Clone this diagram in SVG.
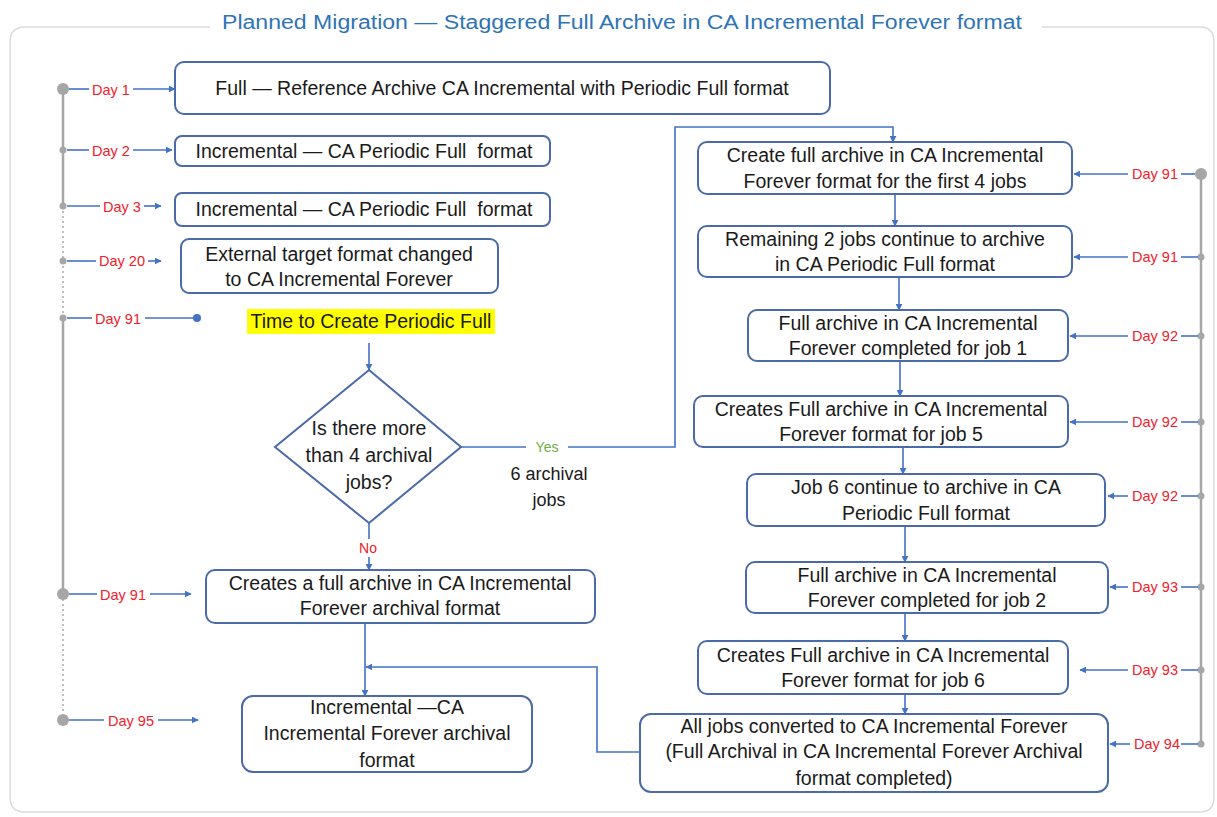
<svg xmlns="http://www.w3.org/2000/svg" width="1217" height="817" viewBox="0 0 1217 817">
<defs>
<marker id="ah" viewBox="0 0 10 10" refX="9" refY="5" markerWidth="7" markerHeight="7" markerUnits="userSpaceOnUse" orient="auto">
<path d="M0,0 L10,5 L0,10 z" fill="#4472C4"/>
</marker>
<marker id="dot" viewBox="0 0 10 10" refX="5" refY="5" markerWidth="8" markerHeight="8" markerUnits="userSpaceOnUse">
<circle cx="5" cy="5" r="5" fill="#4472C4"/>
</marker>
</defs>
<style>
.bx{fill:#fff;stroke:#4A6BA8;stroke-width:2}
.t{font-family:"Liberation Sans",Arial,sans-serif;font-size:19.5px;fill:#1a1a1a;text-anchor:middle;dominant-baseline:central}
.d{font-family:"Liberation Sans",Arial,sans-serif;font-size:14.5px;fill:#F0202A;text-anchor:middle;dominant-baseline:central}
.ln{fill:none;stroke:#4472C4;stroke-width:1.6}
.ar{fill:none;stroke:#4472C4;stroke-width:1.6;marker-end:url(#ah)}
.tl{fill:none;stroke:#A6A6A6;stroke-width:2.5}
.tld{fill:none;stroke:#BFBFBF;stroke-width:2;stroke-dasharray:2 3}
.gd{fill:#A6A6A6}
</style>
<rect width="1217" height="817" fill="#fff"/>
<!-- frame -->
<path d="M210 27 H25 Q10 27 10 42 V797 Q10 812 25 812 H1200 Q1214 812 1214 797 V42 Q1214 27 1200 27 H1042" fill="none" stroke="#DCDCDC" stroke-width="1.5"/>
<text x="622" y="22" font-family="'Liberation Sans',Arial,sans-serif" font-size="20" fill="#2E74B5" text-anchor="middle" dominant-baseline="central" textLength="800" lengthAdjust="spacingAndGlyphs">Planned Migration — Staggered Full Archive in CA Incremental Forever format</text>

<!-- timelines -->
<g id="timeline-left">
<line class="tl" x1="63" y1="89" x2="63" y2="206"/>
<line class="tld" x1="63" y1="206" x2="63" y2="318"/>
<line class="tl" x1="63" y1="318" x2="63" y2="594"/>
<line class="tld" x1="63" y1="594" x2="63" y2="720"/>
<circle class="gd" cx="63" cy="89" r="6"/>
<circle class="gd" cx="63" cy="150" r="3.5"/>
<circle class="gd" cx="63" cy="206" r="3.5"/>
<circle class="gd" cx="63" cy="261" r="3.5"/>
<circle class="gd" cx="63" cy="318" r="3.5"/>
<circle class="gd" cx="63" cy="594" r="6"/>
<circle class="gd" cx="63" cy="720" r="6"/>
</g>
<g id="timeline-right">
<line class="tl" x1="1201" y1="174" x2="1201" y2="744"/>
<circle class="gd" cx="1201" cy="174" r="6"/>
<circle class="gd" cx="1201" cy="257" r="3.5"/>
<circle class="gd" cx="1201" cy="336" r="3.5"/>
<circle class="gd" cx="1201" cy="422" r="3.5"/>
<circle class="gd" cx="1201" cy="496" r="3.5"/>
<circle class="gd" cx="1201" cy="587" r="3.5"/>
<circle class="gd" cx="1201" cy="670" r="3.5"/>
<circle class="gd" cx="1201" cy="744" r="3.5"/>
</g>

<!-- connectors -->
<g id="connectors">
<!-- left day lines -->
<line class="ln" x1="69" y1="89" x2="89" y2="89"/><line class="ar" x1="133" y1="89" x2="175" y2="89"/>
<line class="ln" x1="67" y1="150" x2="89" y2="150"/><line class="ar" x1="133" y1="150" x2="172" y2="150"/>
<line class="ln" x1="67" y1="206" x2="100" y2="206"/><line class="ar" x1="144" y1="206" x2="161" y2="206"/>
<line class="ln" x1="67" y1="261" x2="96" y2="261"/><line class="ar" x1="148" y1="261" x2="161" y2="261"/>
<line class="ln" x1="67" y1="318" x2="92" y2="318"/><line class="ln" x1="145" y1="318" x2="197" y2="318" marker-end="url(#dot)"/>
<line class="ln" x1="69" y1="594" x2="97" y2="594"/><line class="ar" x1="150" y1="594" x2="191" y2="594"/>
<line class="ln" x1="69" y1="720" x2="104" y2="720"/><line class="ar" x1="158" y1="720" x2="198" y2="720"/>
<!-- right day lines -->
<line class="ln" x1="1195" y1="174" x2="1181" y2="174"/><line class="ar" x1="1128" y1="174" x2="1074" y2="174"/>
<line class="ln" x1="1198" y1="257" x2="1181" y2="257"/><line class="ar" x1="1128" y1="257" x2="1074" y2="257"/>
<line class="ln" x1="1198" y1="336" x2="1181" y2="336"/><line class="ar" x1="1128" y1="336" x2="1070" y2="336"/>
<line class="ln" x1="1198" y1="422" x2="1181" y2="422"/><line class="ar" x1="1128" y1="422" x2="1070" y2="422"/>
<line class="ln" x1="1198" y1="496" x2="1181" y2="496"/><line class="ar" x1="1128" y1="496" x2="1108" y2="496"/>
<line class="ln" x1="1198" y1="587" x2="1181" y2="587"/><line class="ar" x1="1128" y1="587" x2="1110" y2="587"/>
<line class="ln" x1="1198" y1="670" x2="1181" y2="670"/><line class="ar" x1="1128" y1="670" x2="1080" y2="670"/>
<line class="ln" x1="1198" y1="744" x2="1181" y2="744"/><line class="ar" x1="1130" y1="744" x2="1110" y2="744"/>
<!-- flow -->
<line class="ar" x1="369" y1="343" x2="369" y2="370"/>
<line class="ln" x1="461" y1="447" x2="526" y2="447"/>
<polyline class="ar" points="568,447 675,447 675,127 893,127 893,142"/>
<line class="ln" x1="369" y1="523" x2="369" y2="539"/>
<line class="ar" x1="369" y1="557" x2="369" y2="570"/>
<line class="ar" x1="365" y1="623" x2="365" y2="696"/>
<polyline class="ar" points="640,752 597,752 597,667 366,667"/>
<line class="ar" x1="895" y1="194" x2="895" y2="226"/>
<line class="ar" x1="899" y1="277" x2="899" y2="310"/>
<line class="ar" x1="900" y1="361" x2="900" y2="396"/>
<line class="ar" x1="903" y1="447" x2="903" y2="474"/>
<line class="ar" x1="905" y1="526" x2="905" y2="562"/>
<line class="ar" x1="905" y1="613" x2="905" y2="641"/>
<line class="ar" x1="905" y1="694" x2="905" y2="714"/>
<!-- day labels -->
<text class="d" x="111" y="90">Day 1</text>
<text class="d" x="111" y="151">Day 2</text>
<text class="d" x="122" y="207">Day 3</text>
<text class="d" x="122" y="261">Day 20</text>
<text class="d" x="118" y="319">Day 91</text>
<text class="d" x="123" y="595">Day 91</text>
<text class="d" x="131" y="721">Day 95</text>
<text class="d" x="1155" y="174">Day 91</text>
<text class="d" x="1155" y="257">Day 91</text>
<text class="d" x="1155" y="336">Day 92</text>
<text class="d" x="1155" y="422">Day 92</text>
<text class="d" x="1155" y="496">Day 92</text>
<text class="d" x="1155" y="587">Day 93</text>
<text class="d" x="1155" y="670">Day 93</text>
<text class="d" x="1157" y="744">Day 94</text>
<text x="547" y="447" font-family="'Liberation Sans',Arial,sans-serif" font-size="14" fill="#70AD47" text-anchor="middle" dominant-baseline="central">Yes</text>
<text x="368" y="548" font-family="'Liberation Sans',Arial,sans-serif" font-size="14" fill="#F0202A" text-anchor="middle" dominant-baseline="central">No</text>
<text class="t" x="549" y="474" style="font-size:18px">6 archival</text>
<text class="t" x="549" y="500" style="font-size:18px">jobs</text>
</g>

<!-- left nodes -->
<g id="n-full">
<rect class="bx" x="175" y="62" width="655" height="52" rx="9"/>
<text class="t" x="502" y="88">Full — Reference Archive CA Incremental with Periodic Full format</text>
</g>
<g id="n-day2">
<rect class="bx" x="175" y="136" width="375" height="30" rx="7"/>
<text class="t" x="364" y="151" xml:space="preserve">Incremental — CA Periodic Full  format</text>
</g>
<g id="n-day3">
<rect class="bx" x="175" y="193" width="375" height="33" rx="7"/>
<text class="t" x="364" y="209" xml:space="preserve">Incremental — CA Periodic Full  format</text>
</g>
<g id="n-day20">
<rect class="bx" x="181" y="239" width="317" height="54" rx="8"/>
<text class="t" x="339" y="254">External target format changed</text>
<text class="t" x="339" y="279">to CA Incremental Forever</text>
</g>
<g id="n-time">
<rect x="247" y="309" width="248" height="25" fill="#FFFF00"/>
<text class="t" x="371" y="321">Time to Create Periodic Full</text>
</g>
<g id="n-decision">
<polygon points="369,370 461,447 369,523 275,447" fill="#fff" stroke="#4A6BA8" stroke-width="2"/>
<text class="t" x="369" y="428">Is there more</text>
<text class="t" x="369" y="455">than 4 archival</text>
<text class="t" x="369" y="482">jobs?</text>
</g>
<g id="n-createfull">
<rect class="bx" x="206" y="570" width="389" height="53" rx="9"/>
<text class="t" x="400" y="583">Creates a full archive in CA Incremental</text>
<text class="t" x="400" y="608">Forever archival format</text>
</g>
<g id="n-incremental">
<rect class="bx" x="242" y="696" width="290" height="76" rx="11"/>
<text class="t" x="387" y="707">Incremental —CA</text>
<text class="t" x="387" y="733">Incremental Forever archival</text>
<text class="t" x="387" y="760">format</text>
</g>

<!-- right nodes -->
<g id="r1">
<rect class="bx" x="698" y="142" width="374" height="52" rx="9"/>
<text class="t" x="885" y="155">Create full archive in CA Incremental</text>
<text class="t" x="885" y="181">Forever format for the first 4 jobs</text>
</g>
<g id="r2">
<rect class="bx" x="698" y="226" width="374" height="51" rx="9"/>
<text class="t" x="885" y="239">Remaining 2 jobs continue to archive</text>
<text class="t" x="885" y="264">in CA Periodic Full format</text>
</g>
<g id="r3">
<rect class="bx" x="748" y="310" width="320" height="51" rx="9"/>
<text class="t" x="908" y="323">Full archive in CA Incremental</text>
<text class="t" x="908" y="348">Forever completed for job 1</text>
</g>
<g id="r4">
<rect class="bx" x="694" y="396" width="374" height="51" rx="9"/>
<text class="t" x="881" y="409">Creates Full archive in CA Incremental</text>
<text class="t" x="881" y="434">Forever format for job 5</text>
</g>
<g id="r5">
<rect class="bx" x="747" y="474" width="358" height="52" rx="9"/>
<text class="t" x="926" y="487">Job 6 continue to archive in CA</text>
<text class="t" x="926" y="513">Periodic Full format</text>
</g>
<g id="r6">
<rect class="bx" x="746" y="562" width="362" height="51" rx="9"/>
<text class="t" x="927" y="575">Full archive in CA Incremental</text>
<text class="t" x="927" y="600">Forever completed for job 2</text>
</g>
<g id="r7">
<rect class="bx" x="698" y="641" width="370" height="53" rx="9"/>
<text class="t" x="883" y="655">Creates Full archive in CA Incremental</text>
<text class="t" x="883" y="680">Forever format for job 6</text>
</g>
<g id="r8">
<rect class="bx" x="640" y="714" width="468" height="78" rx="11"/>
<text class="t" x="874" y="726">All jobs converted to CA Incremental Forever</text>
<text class="t" x="874" y="751">(Full Archival in CA Incremental Forever Archival</text>
<text class="t" x="874" y="778">format completed)</text>
</g>
</svg>
